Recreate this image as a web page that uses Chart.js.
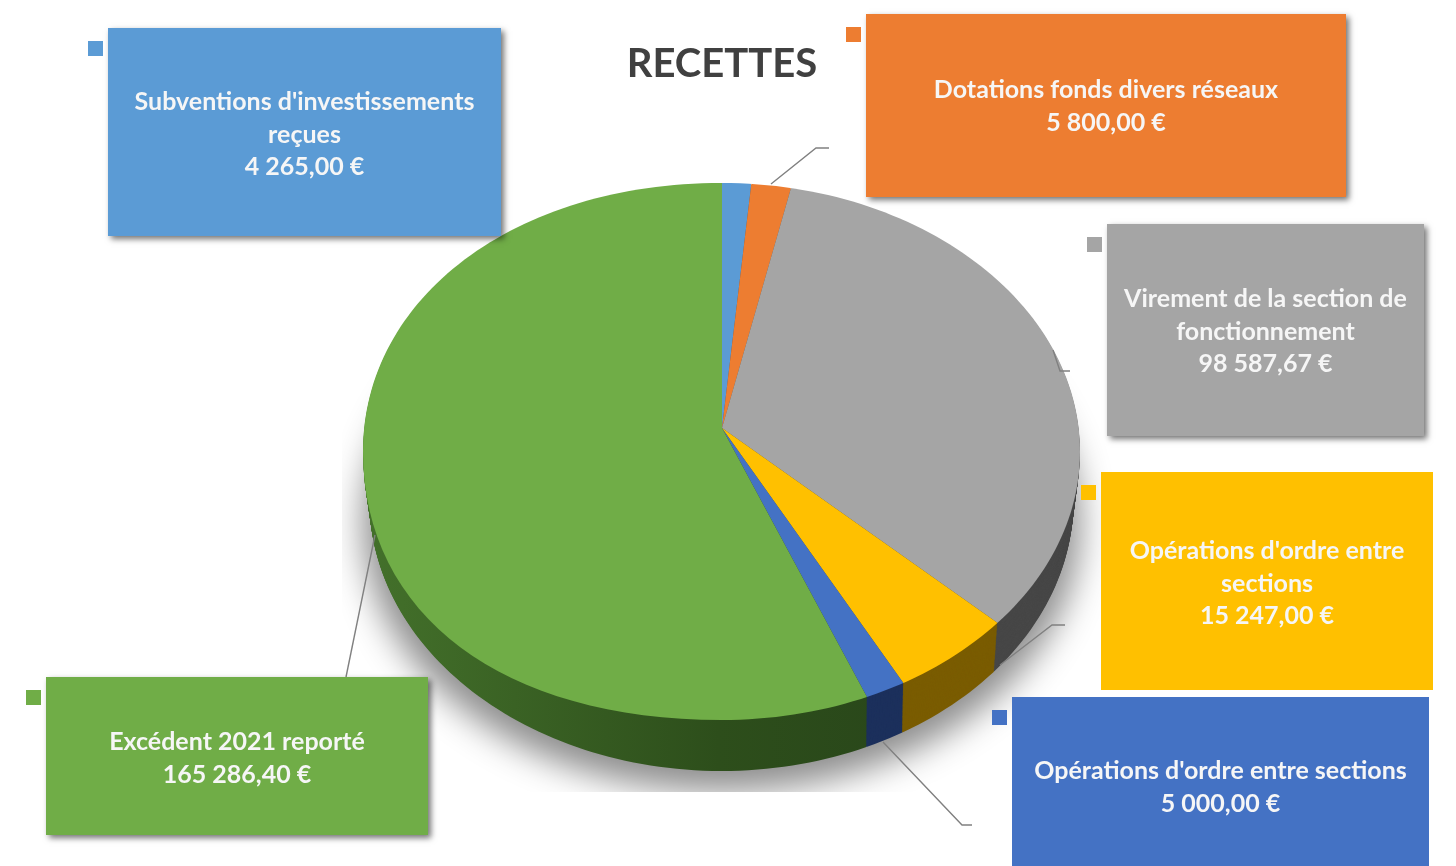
<!DOCTYPE html>
<html lang="fr">
<head>
<meta charset="utf-8">
<title>Recettes</title>
<script src="https://cdn.jsdelivr.net/npm/chart.js@4/dist/chart.umd.min.js"></script>
<style>
html, body { margin: 0; background: #fff; overflow: hidden; }
canvas { display: block; }
</style>
</head>
<body>
<canvas id="mycanvas" width="1456" height="866"></canvas>
<script>
const chartTitle = "RECETTES";
const categories = [
	"Subventions d'investissements reçues",
	"Dotations fonds divers réseaux",
	"Virement de la section de fonctionnement",
	"Opérations d'ordre entre sections",
	"Opérations d'ordre entre sections",
	"Excédent 2021 reporté"
];
const values = [4265.00, 5800.00, 98587.67, 15247.00, 5000.00, 165286.40];
const colors = ["#5B9BD5", "#ED7D31", "#A5A5A5", "#FFC000", "#4472C4", "#70AD47"];
const wallColors = ["#2f5f8c", "#9a4f1c", "#474747", "#7a5c00", "#1c305c", null];

// label boxes: x, y, w, h, centre of first text line, shadow
const boxes = [
	{x: 108, y: 28, w: 393, h: 208, textY: 101, shadow: true},
	{x: 866, y: 14, w: 480, h: 183, textY: 89, shadow: true},
	{x: 1107, y: 224, w: 317, h: 212, textY: 298, shadow: true},
	{x: 1101, y: 472, w: 332, h: 218, textY: 550, shadow: false},
	{x: 1012, y: 697, w: 417, h: 169, textY: 770, shadow: false},
	{x: 46, y: 677, w: 382, h: 158, textY: 741, shadow: true}
];
const leaders = [
	[[771, 184], [816, 148], [829, 148]],
	[[1053, 350], [1060, 371], [1070, 371]],
	[[1000, 665], [1052, 625], [1065, 625]],
	[[883, 742], [962, 825], [972, 825]],
	[[375, 535], [346, 677]]
];

// the pie is seen in perspective: outline shape + wedges stretched from the apex
const topFace = {x: 721.5, y: 451.5, rx: 358.5, ry: 268.5, kUL: 0.575, kLL: 0.61};
const wallEdge = {x: 721.5, y: 500, rx: 352, ry: 271, kUL: 0.5523, kLL: 0.5523};
const depth = 51;
const stretchX = 1.58, stretchY = 1.2;

function money(v) {
	return v.toFixed(2).replace(".", ",").replace(/\B(?=(\d{3})+(?!\d))/g, " ") + " €";
}

function wrap(ctx, text, maxW) {
	let lines = [], cur = "";
	text.split(" ").forEach(function (w) {
		let t = cur ? cur + " " + w : w;
		if (ctx.measureText(t).width > maxW && cur) {
			lines.push(cur);
			cur = w;
		} else {
			cur = t;
		}
	});
	lines.push(cur);
	return lines;
}

function lerpShape(t) {
	let s = {};
	for (let k in topFace) s[k] = topFace[k] + (wallEdge[k] - topFace[k]) * t;
	return s;
}

// ellipse made of four beziers, the left quarters a bit fuller than a true ellipse
function shapePath(ctx, s) {
	const k = 0.5523;
	ctx.beginPath();
	ctx.moveTo(s.x, s.y - s.ry);
	ctx.bezierCurveTo(s.x + k * s.rx, s.y - s.ry, s.x + s.rx, s.y - k * s.ry, s.x + s.rx, s.y);
	ctx.bezierCurveTo(s.x + s.rx, s.y + k * s.ry, s.x + k * s.rx, s.y + s.ry, s.x, s.y + s.ry);
	ctx.bezierCurveTo(s.x - s.kLL * s.rx, s.y + s.ry, s.x - s.rx, s.y + s.kLL * s.ry, s.x - s.rx, s.y);
	ctx.bezierCurveTo(s.x - s.rx, s.y - s.kUL * s.ry, s.x - s.kUL * s.rx, s.y - s.ry, s.x, s.y - s.ry);
	ctx.closePath();
}

function drawArcs(ctx, meta, shape, dy, wall) {
	ctx.save();
	shapePath(ctx, shape);
	ctx.clip();
	meta.data.forEach(function (arc, i) {
		ctx.save();
		ctx.translate(arc.x, arc.y + dy);
		ctx.scale(stretchX, stretchY);
		ctx.translate(-arc.x, -arc.y);
		if (wall) {
			let saved = arc.options;
			arc.options = Object.assign({}, saved, {backgroundColor: wall[i]});
			arc.draw(ctx);
			arc.options = saved;
		} else {
			arc.draw(ctx);
		}
		ctx.restore();
	});
	ctx.restore();
}

const pie3d = {
	id: "pie3d",
	beforeDatasetDraw(chart, args) {
		const ctx = chart.ctx;
		const meta = args.meta;

		// soft floor shadow, cut off like in the original. the ellipse itself
		// sits off canvas so that only its shadow lands on the page
		ctx.save();
		ctx.beginPath();
		ctx.rect(342, 300, 780, 492);
		ctx.clip();
		ctx.shadowColor = "rgba(0,0,0,0.45)";
		ctx.shadowBlur = 34;
		ctx.shadowOffsetX = 3000;
		ctx.shadowOffsetY = 20;
		ctx.fillStyle = "#000";
		ctx.beginPath();
		ctx.ellipse(topFace.x - 3000, topFace.y + depth, topFace.rx, topFace.ry, 0, 0, Math.PI * 2);
		ctx.fill();
		ctx.restore();

		// side wall
		let grad = ctx.createLinearGradient(370, 0, 870, 0);
		grad.addColorStop(0, "#4f8232");
		grad.addColorStop(0.3, "#416d29");
		grad.addColorStop(0.7, "#2d4e1b");
		grad.addColorStop(1, "#28451a");
		let wall = wallColors.map(function (c) { return c || grad; });
		for (let d = depth; d > 0; d--) {
			drawArcs(ctx, meta, lerpShape(d / depth), d, wall);
		}

		// top face
		drawArcs(ctx, meta, topFace, 0, null);
		return false;
	},
	afterDatasetsDraw(chart) {
		const ctx = chart.ctx;

		ctx.strokeStyle = "#808080";
		ctx.lineWidth = 1.4;
		leaders.forEach(function (pts) {
			ctx.beginPath();
			pts.forEach(function (p, i) {
				if (i == 0) ctx.moveTo(p[0], p[1]);
				else ctx.lineTo(p[0], p[1]);
			});
			ctx.stroke();
		});

		ctx.textAlign = "center";
		ctx.textBaseline = "middle";
		ctx.fillStyle = "#404040";
		ctx.font = "bold 40px Lato";
		ctx.fillText(chartTitle, 722, 64);

		ctx.font = "bold 25px Lato";
		boxes.forEach(function (b, i) {
			ctx.save();
			if (b.shadow) {
				ctx.shadowColor = "rgba(0,0,0,0.55)";
				ctx.shadowBlur = 6;
				ctx.shadowOffsetX = 3;
				ctx.shadowOffsetY = 3;
			}
			ctx.fillStyle = colors[i];
			ctx.fillRect(b.x, b.y, b.w, b.h);
			ctx.restore();

			// small colour key left of the box
			ctx.fillStyle = colors[i];
			ctx.fillRect(b.x - 20, b.y + 13, 15, 15);

			ctx.fillStyle = "#f6f6f6";
			let lines = wrap(ctx, categories[i], b.w - 28);
			lines.push(money(values[i]));
			lines.forEach(function (t, n) {
				ctx.fillText(t, b.x + b.w / 2, b.textY + 1 + n * 32.7);
			});
		});
	}
};

const ctx = document.getElementById("mycanvas").getContext("2d");
new Chart(ctx, {
	type: "pie",
	data: {
		labels: categories,
		datasets: [{
			data: values,
			backgroundColor: colors,
			borderWidth: 0,
			radius: 358
		}]
	},
	options: {
		responsive: false,
		animation: false,
		layout: {padding: {right: 12, bottom: 10}},
		plugins: {
			legend: {display: false},
			tooltip: {enabled: false}
		}
	},
	plugins: [pie3d]
});
</script>
</body>
</html>
